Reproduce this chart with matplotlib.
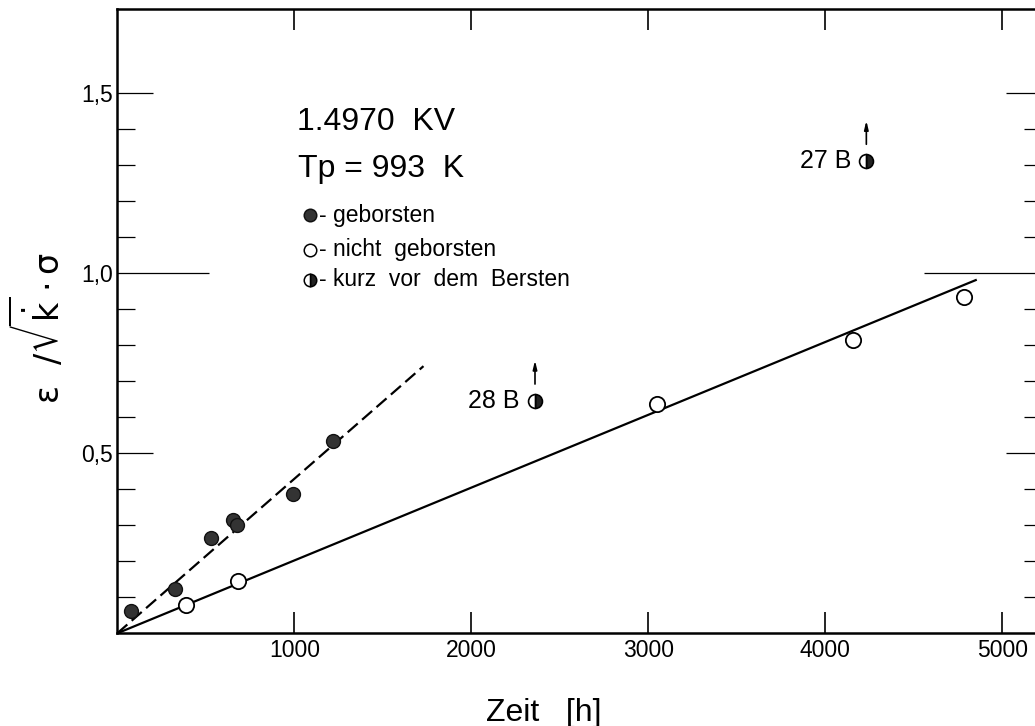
import matplotlib
matplotlib.use("Agg")
import matplotlib.pyplot as plt
from matplotlib import font_manager

# Kriechversuche 1.4970 KV, Tp = 993 K
burst_t = [76, 328, 531, 652, 676, 991, 1217]
burst_v = [0.063, 0.123, 0.264, 0.315, 0.300, 0.388, 0.534]

intact_t = [388, 680, 3047, 4158, 4784]
intact_v = [0.079, 0.145, 0.637, 0.815, 0.933]

near_t = [2360, 4232]
near_v = [0.646, 1.312]
near_labels = ["28 B", "27 B"]

# Ausgleichsgeraden
burst_fit_t = [0, 1730]
burst_fit_v = [0, 0.742]
intact_fit_t = [0, 4850]
intact_fit_v = [0, 0.981]

x_ticks = [1000, 2000, 3000, 4000, 5000]
y_ticks = [0.5, 1.0, 1.5]
y_ticklabels = ["0,5", "1,0", "1,5"]
y_minor = [0.1, 0.2, 0.3, 0.4, 0.6, 0.7, 0.8, 0.9, 1.1, 1.2, 1.3, 1.4]

names = {f.name for f in font_manager.fontManager.ttflist}
FONT = "Liberation Sans" if "Liberation Sans" in names else "DejaVu Sans"
plt.rcParams["font.family"] = [FONT, "DejaVu Sans"]
plt.rcParams["mathtext.fontset"] = "dejavusans"

fig = plt.figure(figsize=(10.35, 7.26), dpi=100)
ax = fig.add_axes([0.1133, 0.1277, 0.8934, 0.8599])

ax.plot(burst_fit_t, burst_fit_v, color="black", lw=1.6,
        linestyle=(0, (6, 2.6)), zorder=2)
ax.plot(intact_fit_t, intact_fit_v, color="black", lw=1.6, zorder=2)

ax.plot(burst_t, burst_v, "o", ms=10, mfc="#333333", mec="#111111",
        mew=1.0, zorder=3)
ax.plot(intact_t, intact_v, "o", ms=11, mfc="white", mec="black",
        mew=1.3, zorder=3)
ax.plot(near_t, near_v, "o", ms=10, fillstyle="right", mfc="#222222",
        markerfacecoloralt="white", mec="black", mew=1.2, zorder=3)

for t, v, lab in zip(near_t, near_v, near_labels):
    ax.annotate(lab, xy=(t, v), xytext=(-11, 0), textcoords="offset points",
                ha="right", va="center", fontsize=18)
    ax.annotate("", xy=(t, v), xytext=(0, 29), textcoords="offset points",
                arrowprops=dict(arrowstyle="<|-,head_length=0.5,head_width=0.12",
                                color="black", lw=1.2, shrinkA=0, shrinkB=12))

ax.set_xlim(0, 5224)
ax.set_ylim(0, 1.734)

ax.set_xticks(x_ticks)
ax.set_xticklabels([str(t) for t in x_ticks])
ax.set_yticks(y_ticks)
ax.set_yticklabels(y_ticklabels)
ax.set_yticks(y_minor, minor=True)

ax.tick_params(axis="x", which="major", direction="in", top=True, bottom=True,
               length=15, width=1.2, labelsize=16.5, pad=4)
ax.tick_params(axis="y", which="major", direction="in", left=True, right=True,
               length=26, width=0.9, labelsize=16.5, pad=3)
ax.tick_params(axis="y", which="minor", direction="in", left=True, right=True,
               length=13, width=0.9)

# langer Strich bei 1,0
for tick in ax.yaxis.get_major_ticks():
    if abs(tick.get_loc() - 1.0) < 1e-6:
        tick.tick1line.set_markersize(66)
        tick.tick2line.set_markersize(85)

for side in ["left", "right", "top", "bottom"]:
    ax.spines[side].set_linewidth(1.8)

# Beschriftung der Symbole
ax.text(0.194, 0.806, "1.4970  KV", transform=ax.transAxes, fontsize=23,
        va="baseline", ha="left")
ax.text(0.195, 0.731, "Tp = 993  K", transform=ax.transAxes, fontsize=23,
        va="baseline", ha="left")

legend_rows = [
    (0.670, dict(mfc="#333333", mec="#111111"), "- geborsten"),
    (0.614, dict(mfc="white", mec="black"), "- nicht  geborsten"),
    (0.566, dict(mfc="#222222", mec="black", fillstyle="right",
                 markerfacecoloralt="white"), "- kurz  vor  dem  Bersten"),
]
for y, style, text in legend_rows:
    ax.plot([0.208], [y], "o", ms=9, mew=1.1, transform=ax.transAxes,
            clip_on=False, **style)
    ax.text(0.218, y, text, transform=ax.transAxes, fontsize=16.5,
            va="center", ha="left")

fig.text(37 / 1035, 1 - 328 / 726,
         r"$\mathrm{\varepsilon}\ \ /\sqrt{\dot{\mathrm{k}}}\cdot\mathrm{\sigma}$",
         rotation=90, ha="center", va="center", fontsize=24)
fig.text(544 / 1035, 5 / 726, "Zeit   [h]", ha="center", va="baseline",
         fontsize=23)

fig.savefig("out.png", dpi=100)
